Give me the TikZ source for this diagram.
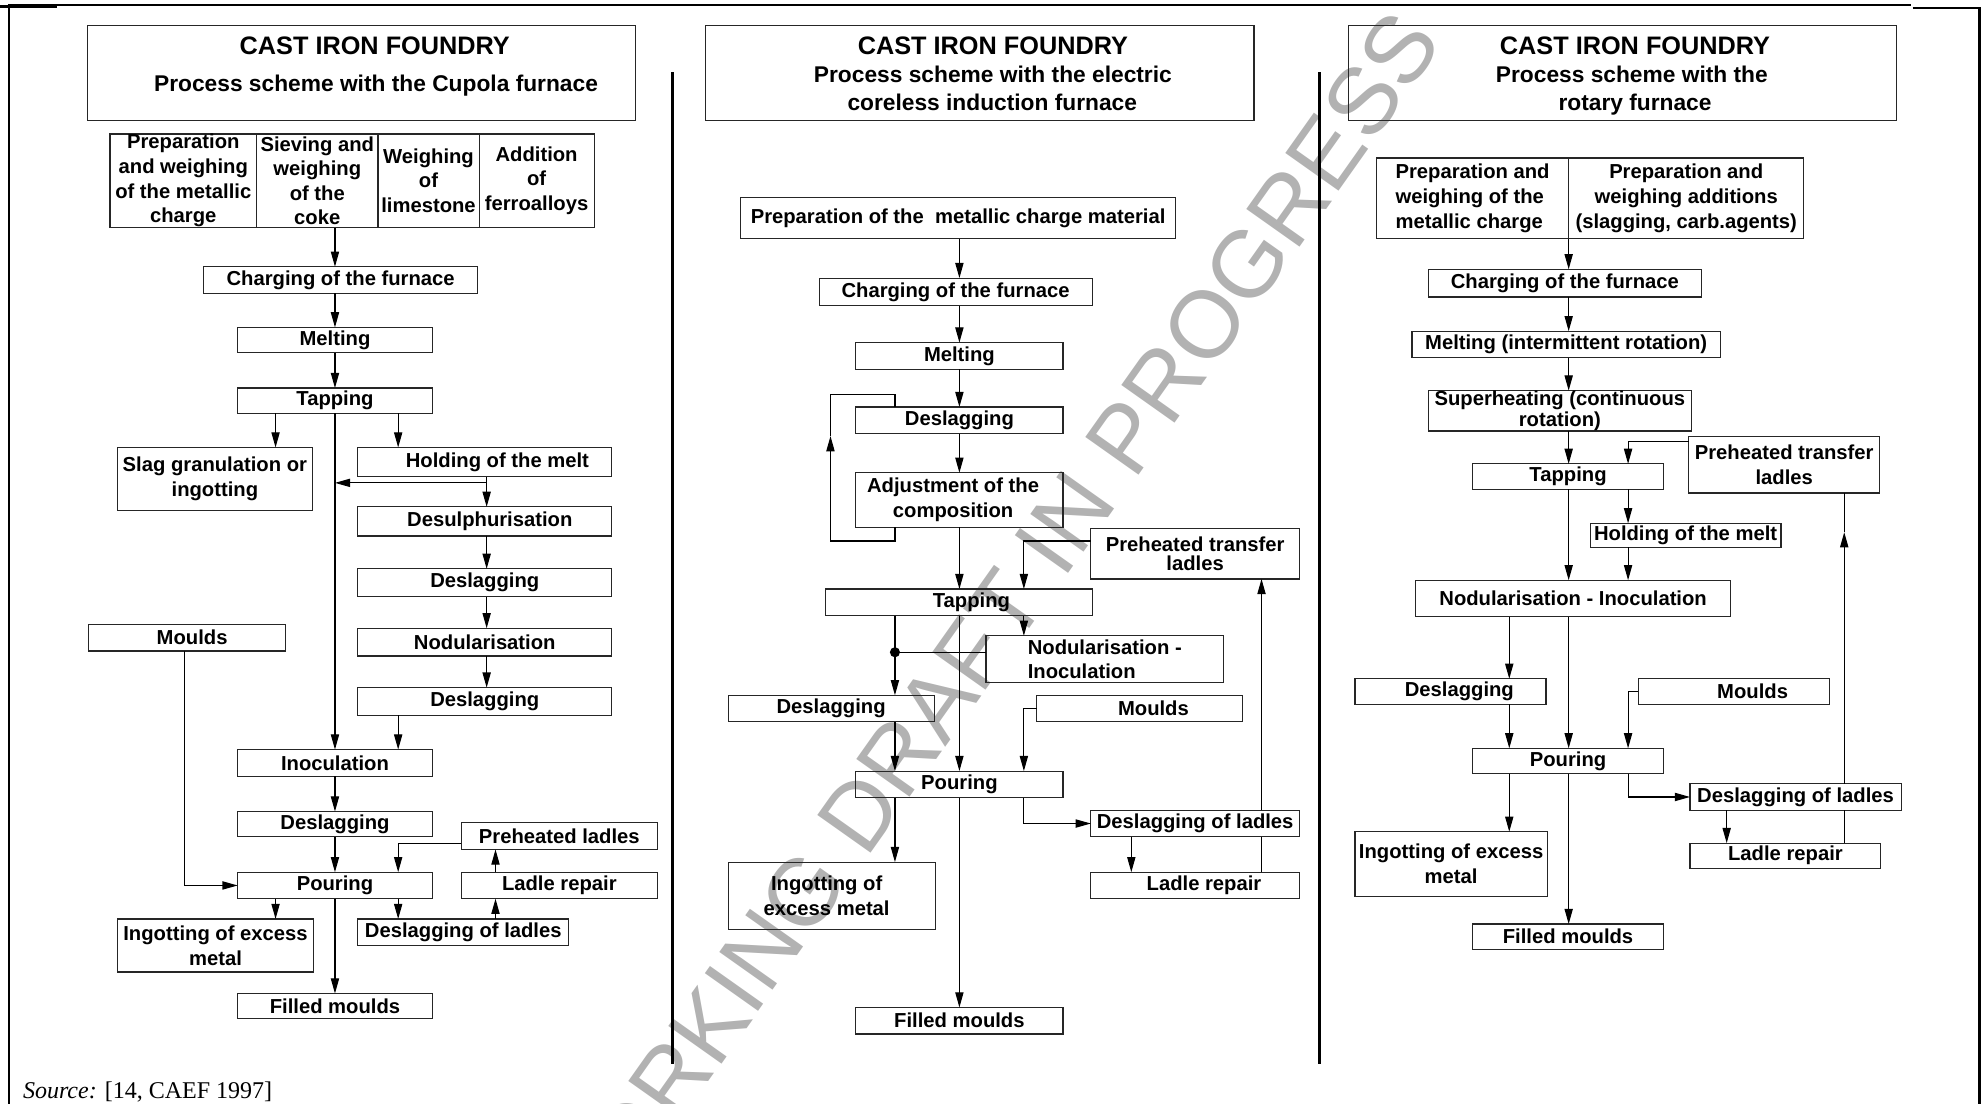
\documentclass[tikz,border=0pt]{standalone}
\usepackage{fontspec}
\setmainfont{Liberation Sans}
\newfontfamily\srcfont{Liberation Serif}
\newfontfamily\wmfont{Liberation Sans}
\usetikzlibrary{arrows.meta}

% box from corner (x1,y1) to corner (x2,y2): \pbox[style]{name}{x1}{y1}{x2}{y2}{text}
\newcommand{\pbox}[7][]{%
  \pgfmathsetmacro\pbW{#5-#3}%
  \pgfmathsetmacro\pbH{#6-#4}%
  \pgfmathsetmacro\pbX{(#3+#5)/2}%
  \pgfmathsetmacro\pbY{(#4+#6)/2}%
  \node[box,minimum width=\pbW pt,minimum height=\pbH pt,#1] (#2) at (\pbX,\pbY) {#7};}

\tikzset{
  box/.style={draw=black!85, line width=0.9pt, inner sep=0pt, outer sep=0pt,
              align=center, font=\bfseries\fontsize{16}{19.5}\selectfont},
  tight/.style={font=\bfseries\fontsize{16}{14.5}\selectfont},
  ttl/.style={inner sep=0pt, anchor=base, font=\bfseries\fontsize{20}{24}\selectfont},
  sub/.style={inner sep=0pt, anchor=base, font=\bfseries\fontsize{18}{22}\selectfont},
  con/.style={draw=black, line width=0.9pt},
  arr/.style={con, -{Triangle[length=12pt,width=6.5pt]}},
  divider/.style={line width=2.7pt},
  frame/.style={line width=1.6pt},
  wmark/.style={text=black!30, inner sep=0pt, font=\wmfont\fontsize{75}{75}\selectfont},
}

\begin{document}
\begin{tikzpicture}[x=1pt,y=-1pt]
\useasboundingbox (0,0) rectangle (1568,873);

% watermark behind everything
\begin{scope}
  \clip (0,0) rectangle (1568,873);
  \node[wmark, rotate=54.7] (wm) at (781,500) {WORKING DRAFT IN PROGRESS};
\end{scope}

% page frame and column dividers
\draw[frame] (7,873) -- (7,4) -- (1512,4);
\draw[line width=2.4pt] (0,5) -- (45,5);
\draw[frame] (1513,6) -- (1566,6) -- (1566,873);
\draw[divider] (532,57) -- (532,842);
\draw[divider] (1044,57) -- (1044,842);

% connector lanes
\foreach \lx in {146,218,265,315,385,392,657,708,759,810,895,998,1194,1241,1288,1366,1459}
  \coordinate (x\lx) at (\lx,0);

% ---------------- Cupola furnace ----------------
\pbox{c1title}{69}{20}{503}{95}{}
\node[ttl] (c1t1) at (296.5,43) {CAST IRON FOUNDRY};
\node[sub] (c1t2) at (297.5,72.5) {Process scheme with the Cupola furnace};

\pbox{c1p}{87}{106}{203}{180}{Preparation\\and weighing\\of the metallic\\charge}
\pbox{c1s}{203}{106}{299}{180}{Sieving and\\weighing\\of the\\coke}
\pbox{c1w}{299}{106}{379}{180}{Weighing\\of\\limestone}
\pbox{c1a}{379}{106}{470}{180}{Addition\\of\\ferroalloys}
\pbox{c1chg}{161}{211}{378}{232}{Charging of the furnace}
\pbox{c1melt}{188}{259}{342}{279}{Melting}
\pbox{c1tap}{188}{307}{342}{327}{Tapping}
\pbox{c1slag}{93}{354}{247}{404}{Slag granulation or\\ingotting}
\pbox{c1hold}{283}{354}{484}{377}{\hspace*{20pt}Holding of the melt}
\pbox{c1desul}{283}{401}{484}{424}{\hspace*{8pt}Desulphurisation}
\pbox{c1desl1}{283}{450}{484}{472}{Deslagging}
\pbox{c1nod}{283}{497}{484}{519}{Nodularisation}
\pbox{c1desl2}{283}{544}{484}{566}{Deslagging}
\pbox{c1inoc}{188}{593}{342}{614}{Inoculation}
\pbox{c1desl3}{188}{642}{342}{662}{Deslagging}
\pbox{c1pour}{188}{690}{342}{711}{Pouring}
\pbox{c1mould}{70}{494}{226}{515}{\hspace*{8pt}Moulds}
\pbox{c1pre}{365}{651}{520}{672}{Preheated ladles}
\pbox{c1rep}{365}{690}{520}{711}{Ladle repair}
\pbox{c1dlad}{283}{727}{450}{748}{Deslagging of ladles}
\pbox{c1ingot}{93}{727}{248}{769}{Ingotting of excess\\metal}
\pbox{c1fill}{188}{786}{342}{806}{Filled moulds}

\draw[arr] (x265 |- c1s.south) -- (x265 |- c1chg.north);
\draw[arr] (x265 |- c1chg.south) -- (x265 |- c1melt.north);
\draw[arr] (x265 |- c1melt.south) -- (x265 |- c1tap.north);
\draw[arr] (x218 |- c1tap.south) -- (x218 |- c1slag.north);
\draw[arr] (x315 |- c1tap.south) -- (x315 |- c1hold.north);
\draw[arr] (x265 |- c1tap.south) -- (x265 |- c1inoc.north);
\draw[arr] (x385 |- c1hold.south) -- (x385 |- c1desul.north);
\coordinate (c1br) at (385,382);
\draw[arr] (c1br) -- (x265 |- c1br);
\draw[arr] (x385 |- c1desul.south) -- (x385 |- c1desl1.north);
\draw[arr] (x385 |- c1desl1.south) -- (x385 |- c1nod.north);
\draw[arr] (x385 |- c1nod.south) -- (x385 |- c1desl2.north);
\draw[arr] (x315 |- c1desl2.south) -- (x315 |- c1inoc.north);
\draw[arr] (x265 |- c1inoc.south) -- (x265 |- c1desl3.north);
\draw[arr] (x265 |- c1desl3.south) -- (x265 |- c1pour.north);
\draw[arr] (x146 |- c1mould.south) |- (c1pour.west);
\draw[arr] ([yshift=5pt]c1pre.south west) -| (x315 |- c1pour.north);
\draw[arr] (x392 |- c1rep.north) -- (x392 |- c1pre.south);
\draw[arr] (x392 |- c1dlad.north) -- (x392 |- c1rep.south);
\draw[arr] (x218 |- c1pour.south) -- (x218 |- c1ingot.north);
\draw[arr] (x315 |- c1pour.south) -- (x315 |- c1dlad.north);
\draw[arr] (x265 |- c1pour.south) -- (x265 |- c1fill.north);

% ---------------- Coreless induction furnace ----------------
\pbox{c2title}{558}{20}{992}{95}{}
\node[ttl] (c2t1) at (785.5,43) {CAST IRON FOUNDRY};
\node[sub] (c2t2) at (785.5,65.5) {Process scheme with the electric};
\node[sub] (c2t3) at (785,87.5) {coreless induction furnace};

\pbox{c2prep}{586}{156}{930}{189}{Preparation of the\ \ metallic charge material}
\pbox{c2chg}{648}{220}{864}{242}{Charging of the furnace}
\pbox{c2melt}{677}{271}{841}{292}{Melting}
\pbox{c2desl}{677}{322}{841}{343}{Deslagging}
\pbox{c2adj}{677}{374}{841}{417}{Adjustment of the\hspace*{10pt}\\composition\hspace*{10pt}}
\pbox{c2tap}{653}{466}{864}{487}{\hspace*{20pt}Tapping}
\pbox[tight]{c2pre}{863}{418}{1028}{458}{Preheated transfer\\ladles}
\pbox[align=left]{c2nod}{780}{503}{968}{540}{Nodularisation -\\Inoculation}
\pbox{c2desl2}{576}{550}{739}{571}{Deslagging}
\pbox{c2mould}{820}{550}{983}{571}{\hspace*{22pt}Moulds}
\pbox{c2pour}{677}{610}{841}{631}{Pouring}
\pbox{c2ingot}{576}{682}{740}{735}{Ingotting of\hspace*{8pt}\\excess metal\hspace*{8pt}}
\pbox{c2fill}{677}{797}{841}{818}{Filled moulds}
\pbox{c2dlad}{863}{641}{1028}{662}{Deslagging of ladles}
\pbox{c2rep}{863}{690}{1028}{711}{\hspace*{14pt}Ladle repair}

\draw[arr] (x759 |- c2prep.south) -- (x759 |- c2chg.north);
\draw[arr] (x759 |- c2chg.south) -- (x759 |- c2melt.north);
\draw[arr] (x759 |- c2melt.south) -- (x759 |- c2desl.north);
\draw[arr] (x759 |- c2desl.south) -- (x759 |- c2adj.north);
\draw[arr] (x759 |- c2adj.south) -- (x759 |- c2tap.north);
\coordinate (c2la) at (657,428);
\coordinate (c2tip) at (657,345);
\coordinate (c2lb) at (657,312);
\draw[arr] (x708 |- c2adj.south) |- (c2la) -- (c2tip);
\draw[con] (c2tip) -- (c2lb) -| (x708 |- c2desl.north);
\draw[arr] ([yshift=-10pt]c2pre.north west) -| (x810 |- c2tap.north);
\draw[arr] (x810 |- c2tap.south) -- (x810 |- c2nod.north);
\draw[arr] (x708 |- c2tap.south) -- (x708 |- c2desl2.north);
\coordinate (c2dot) at (708,516);
\draw[con] (c2nod.west |- c2dot) -- (c2dot);
\fill (c2dot) circle[radius=4pt];
\draw[arr] (x759 |- c2tap.south) -- (x759 |- c2pour.north);
\draw[arr] (x708 |- c2desl2.south) -- (x708 |- c2pour.north);
\draw[arr] (c2mould.west) -| (x810 |- c2pour.north);
\draw[arr] (x708 |- c2pour.south) -- (x708 |- c2ingot.north);
\draw[arr] (x759 |- c2pour.south) -- (x759 |- c2fill.north);
\draw[arr] (x810 |- c2pour.south) |- (c2dlad.west);
\draw[arr] (x895 |- c2dlad.south) -- (x895 |- c2rep.north);
\draw[con] (x998 |- c2rep.north) -- (x998 |- c2dlad.south);
\draw[arr] (x998 |- c2dlad.north) -- (x998 |- c2pre.south);

% ---------------- Rotary furnace ----------------
\pbox{c3title}{1067}{20}{1500}{95}{}
\node[ttl] (c3t1) at (1293.5,43) {CAST IRON FOUNDRY};
\node[sub] (c3t2) at (1291,65.5) {Process scheme with the};
\node[sub] (c3t3) at (1293.5,87.5) {rotary furnace};

\pbox[align=left]{c3pa}{1089}{125}{1241}{189}{Preparation and\\weighing of the\\metallic charge}
\pbox{c3pb}{1241}{125}{1427}{189}{Preparation and\\weighing additions\\(slagging, carb.agents)}
\pbox{c3chg}{1130}{213}{1346}{235}{Charging of the furnace}
\pbox{c3melt}{1117}{262}{1361}{283}{Melting (intermittent rotation)}
\pbox[tight]{c3sup}{1130}{309}{1338}{341}{Superheating (continuous\\rotation)}
\pbox{c3tap}{1165}{367}{1316}{387}{Tapping}
\pbox{c3pre}{1336}{345}{1487}{390}{Preheated transfer\\ladles}
\pbox{c3hold}{1258}{414}{1409}{433}{Holding of the melt}
\pbox{c3nod}{1120}{459}{1369}{488}{Nodularisation - Inoculation}
\pbox{c3desl}{1072}{537}{1223}{557}{\hspace*{14pt}Deslagging}
\pbox{c3mould}{1296}{537}{1447}{557}{\hspace*{30pt}Moulds}
\pbox{c3pour}{1165}{592}{1316}{612}{Pouring}
\pbox{c3dlad}{1337}{620}{1504}{641}{Deslagging of ladles}
\pbox{c3rep}{1337}{667}{1488}{687}{Ladle repair}
\pbox{c3ingot}{1072}{658}{1224}{709}{Ingotting of excess\\metal}
\pbox{c3fill}{1165}{731}{1316}{751}{Filled moulds}

\draw[arr] (x1241 |- c3pa.south) -- (x1241 |- c3chg.north);
\draw[arr] (x1241 |- c3chg.south) -- (x1241 |- c3melt.north);
\draw[arr] (x1241 |- c3melt.south) -- (x1241 |- c3sup.north);
\draw[arr] (x1241 |- c3sup.south) -- (x1241 |- c3tap.north);
\draw[arr] ([yshift=-4pt]c3pre.north west) -| (x1288 |- c3tap.north);
\draw[arr] (x1288 |- c3tap.south) -- (x1288 |- c3hold.north);
\draw[arr] (x1241 |- c3tap.south) -- (x1241 |- c3nod.north);
\draw[arr] (x1288 |- c3hold.south) -- (x1288 |- c3nod.north);
\draw[arr] (x1194 |- c3nod.south) -- (x1194 |- c3desl.north);
\draw[arr] (x1241 |- c3nod.south) -- (x1241 |- c3pour.north);
\draw[arr] (x1194 |- c3desl.south) -- (x1194 |- c3pour.north);
\draw[arr] (c3mould.west) -| (x1288 |- c3pour.north);
\draw[arr] (x1194 |- c3pour.south) -- (x1194 |- c3ingot.north);
\draw[arr] (x1241 |- c3pour.south) -- (x1241 |- c3fill.north);
\draw[arr] (x1288 |- c3pour.south) |- (c3dlad.west);
\draw[arr] (x1366 |- c3dlad.south) -- (x1366 |- c3rep.north);
\draw[con] (x1459 |- c3rep.north) -- (x1459 |- c3dlad.south);
\coordinate (c3tip) at (1459,421);
\draw[arr] (x1459 |- c3dlad.north) -- (c3tip);
\draw[con] (c3tip) -- (x1459 |- c3pre.south);

% source line
\node[anchor=base west, inner sep=0pt, font=\srcfont\fontsize{19}{19}\selectfont] (src) at (18,869) {\textit{Source:} [14, CAEF 1997]};
\end{tikzpicture}
\end{document}
